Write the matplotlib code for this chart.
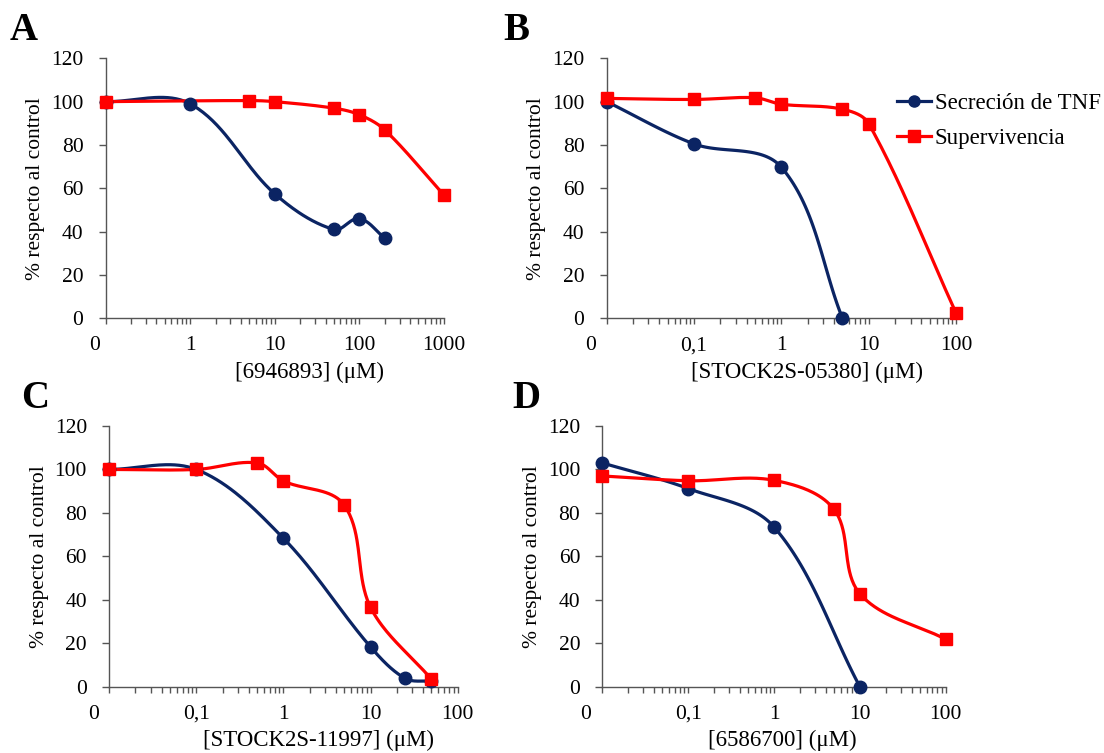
import numpy as np
import matplotlib
matplotlib.use("Agg")
import matplotlib.pyplot as plt
from matplotlib.ticker import FixedLocator, LogLocator, NullFormatter, FixedFormatter
from matplotlib.lines import Line2D
import matplotlib.transforms as mtransforms

plt.rcParams['font.family'] = ['Liberation Serif', 'DejaVu Serif']

# ---- data (concentration 0 = control, drawn at the left end of the log axis)
a_tnf_x = [0, 1, 10, 50, 100, 200]
a_tnf_y = [100, 99, 57.5, 41, 46, 37]
a_sup_x = [0, 5, 10, 50, 100, 200, 1000]
a_sup_y = [100, 100.5, 100, 97, 94, 87, 57]

b_tnf_x = [0, 0.1, 1, 5]
b_tnf_y = [100, 80.5, 69.7, 0]
b_sup_x = [0, 0.1, 0.5, 1, 5, 10, 100]
b_sup_y = [101.5, 101, 101.8, 98.8, 96.5, 89.8, 2.3]

c_tnf_x = [0, 0.1, 1, 10, 25, 50]
c_tnf_y = [100, 100, 68.3, 18.3, 3.8, 2.5]
c_sup_x = [0, 0.1, 0.5, 1, 5, 10, 50]
c_sup_y = [100, 100, 103, 94.7, 83.5, 36.5, 3.4]

d_tnf_x = [0, 0.1, 1, 10]
d_tnf_y = [103, 91.2, 73.5, 0]
d_sup_x = [0, 0.1, 1, 5, 10, 100]
d_sup_y = [97, 94.8, 95, 81.6, 42.8, 21.8]

xlabels = ["[6946893] (\u03bcM)", "[STOCK2S-05380] (\u03bcM)",
           "[STOCK2S-11997] (\u03bcM)", "[6586700] (\u03bcM)"]
panel_letters = ["A", "B", "C", "D"]
tick_labels_a = ["0", "1", "10", "100", "1000"]
tick_labels_bcd = ["0", "0,1", "1", "10", "100"]
y_ticks = [0, 20, 40, 60, 80, 100, 120]
series_names = ["Secreci\u00f3n de TNF", "Supervivencia"]

NAVY = "#0b2463"
RED = "#ff0000"
AXCOL = "#555555"

W, H = 1104, 753
fig = plt.figure(figsize=(W / 100, H / 100), dpi=100)


def px_axes(left, right, top, bottom):
    return fig.add_axes([left / W, 1 - bottom / H, (right - left) / W, (bottom - top) / H])


def smooth(ax, x, y, n=40):
    """Bezier smoothing through the points, computed in screen space.
    Tangent directions follow the neighbouring points; handle lengths are a
    third of the segment length, which avoids overshoot on uneven spacing."""
    P = ax.transData.transform(np.column_stack([x, y]))
    ext = np.vstack([P[0], P, P[-1]])
    t = np.linspace(0, 1, n)[:, None]

    def unit(v):
        nv = np.hypot(*v)
        return v / nv if nv > 0 else v

    segs = []
    for i in range(len(P) - 1):
        p0, p1, p2, p3 = ext[i], ext[i + 1], ext[i + 2], ext[i + 3]
        L = np.hypot(*(p2 - p1)) / 3
        c1 = p1 + unit(p2 - p0) * L
        c2 = p2 - unit(p3 - p1) * L
        b = (1 - t) ** 3 * p1 + 3 * (1 - t) ** 2 * t * c1 + 3 * (1 - t) * t ** 2 * c2 + t ** 3 * p2
        segs.append(b if i == 0 else b[1:])
    D = ax.transData.inverted().transform(np.vstack(segs))
    return D[:, 0], D[:, 1]


panels = [
    dict(box=(105.6, 443.7, 58.3, 318.3), xlim=(0.1, 1000), labels=tick_labels_a,
         tnf=(a_tnf_x, a_tnf_y), sup=(a_sup_x, a_sup_y), zero_dx=-11, xlab_dx=35,
         letter=(10, 40)),
    dict(box=(606.6, 956.2, 58.3, 318.3), xlim=(0.01, 100), labels=tick_labels_bcd,
         tnf=(b_tnf_x, b_tnf_y), sup=(b_sup_x, b_sup_y), zero_dx=-16, xlab_dx=26,
         letter=(503, 40)),
    dict(box=(109.2, 457.7, 426.0, 686.7), xlim=(0.01, 100), labels=tick_labels_bcd,
         tnf=(c_tnf_x, c_tnf_y), sup=(c_sup_x, c_sup_y), zero_dx=-16, xlab_dx=35,
         letter=(21, 408)),
    dict(box=(602.4, 945.7, 426.0, 686.7), xlim=(0.01, 100), labels=tick_labels_bcd,
         tnf=(d_tnf_x, d_tnf_y), sup=(d_sup_x, d_sup_y), zero_dx=-17, xlab_dx=8,
         letter=(512, 408)),
]

FS = 15.5
FS_X = 16.5
FS_LEG = 16.5
axes = []
for k, p in enumerate(panels):
    left, right, top, bottom = p["box"]
    ax = px_axes(left, right, top, bottom)
    axes.append(ax)
    ax.set_xscale("log")
    ax.set_xlim(*p["xlim"])
    ax.set_ylim(0, 120)

    for s in ["top", "right"]:
        ax.spines[s].set_visible(False)
    for s in ["left", "bottom"]:
        ax.spines[s].set_color(AXCOL)
        ax.spines[s].set_linewidth(1.0)

    lo, hi = p["xlim"]
    decades = np.logspace(np.log10(lo), np.log10(hi), int(round(np.log10(hi / lo))) + 1)
    ax.xaxis.set_major_locator(FixedLocator(decades))
    ax.xaxis.set_major_formatter(FixedFormatter(p["labels"]))
    ax.xaxis.set_minor_locator(LogLocator(base=10, subs=np.arange(2, 10)))
    ax.xaxis.set_minor_formatter(NullFormatter())
    ax.set_yticks(y_ticks)
    ax.tick_params(axis="x", which="both", direction="out", length=4, width=1,
                   color=AXCOL, labelsize=FS, pad=9)
    ax.tick_params(axis="y", which="major", direction="out", length=5, width=1,
                   color=AXCOL, labelsize=FS, pad=11)

    # shift the control ("0") label slightly to the left
    lab0 = ax.get_xticklabels()[0]
    lab0.set_transform(lab0.get_transform() +
                       mtransforms.ScaledTranslation(p["zero_dx"] / 100, 0, fig.dpi_scale_trans))

    wpx, hpx = right - left, bottom - top
    ax.set_ylabel("% respecto al control", fontsize=FS)
    ax.yaxis.set_label_coords(-70 / wpx, 0.5)
    ax.set_xlabel(xlabels[k], fontsize=FS_X)
    ax.xaxis.set_label_coords(0.5 + p["xlab_dx"] / wpx, -54 / hpx)
    ax.xaxis.label.set_va("center")
    ax.yaxis.label.set_va("center")

    for (xs, ys), col, mk, ms in [(p["tnf"], NAVY, "o", 9), (p["sup"], RED, "s", 9)]:
        xv = [lo if v == 0 else v for v in xs]
        sx, sy = smooth(ax, xv, ys)
        ax.plot(sx, sy, color=col, lw=2.3, solid_capstyle="round", zorder=3)
        ax.plot(xv, ys, ls="none", marker=mk, ms=ms, color=col, mec=col,
                clip_on=False, zorder=4)

    lx, ly = p["letter"]
    fig.text(lx / W, 1 - ly / H, panel_letters[k], fontsize=28, fontweight="bold",
             va="baseline", ha="left")

handles = [Line2D([], [], color=NAVY, lw=2.3, marker="o", ms=8),
           Line2D([], [], color=RED, lw=2.3, marker="s", ms=8)]
fig.legend(handles, series_names, loc="upper left",
           bbox_to_anchor=(897 / W, 1 - 93 / H), bbox_transform=fig.transFigure,
           frameon=False, fontsize=FS_LEG, handlelength=1.5, handletextpad=0.15,
           labelspacing=0.62, borderpad=0, borderaxespad=0)

fig.savefig("out.png", dpi=100, facecolor="white")
